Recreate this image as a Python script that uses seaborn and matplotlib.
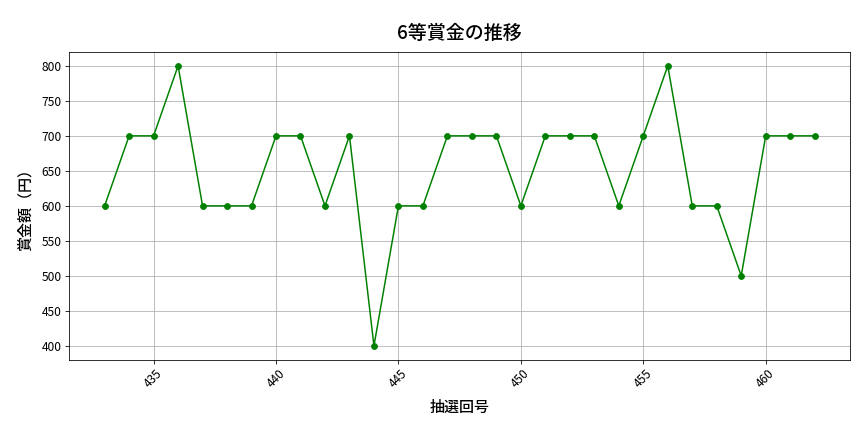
import matplotlib
matplotlib.use("Agg")
import matplotlib.pyplot as plt
import seaborn as sns
import pandas as pd

draws = list(range(433, 463))
prizes = [600, 700, 700, 800, 600, 600, 600, 700, 700, 600,
          700, 400, 600, 600, 700, 700, 700, 600, 700, 700,
          700, 600, 700, 800, 600, 600, 500, 700, 700, 700]

df = pd.DataFrame({"draw": draws, "prize": prizes})

sns.set_style("white")
plt.rcParams['font.family'] = ['Noto Sans CJK JP', 'DejaVu Sans']
plt.rcParams['text.color'] = 'black'
plt.rcParams['axes.labelcolor'] = 'black'

fig, ax = plt.subplots(figsize=(12, 6), dpi=72)
sns.lineplot(data=df, x="draw", y="prize", ax=ax, color="green",
             marker="o", markersize=6, markeredgecolor="green", linewidth=1.5)
ax.set_title("6等賞金の推移", fontsize=19, fontweight="medium", pad=13)
ax.set_xlabel("抽選回号", fontsize=15, fontweight="medium", labelpad=8)
ax.set_ylabel("賞金額（円）", fontsize=15, fontweight="medium", labelpad=8)
ax.grid(True, color="#b0b0b0", linewidth=0.8)
ax.tick_params(axis="x", rotation=45, labelsize=12, colors="black", length=4, width=0.8, bottom=True)
ax.tick_params(axis="y", labelsize=12, colors="black", length=4, width=0.8, left=True)
for s in ax.spines.values():
    s.set_color("black")
    s.set_linewidth(0.8)
fig.subplots_adjust(left=0.08, right=0.984, top=0.88, bottom=0.167)
fig.savefig("out.png", dpi=72)
